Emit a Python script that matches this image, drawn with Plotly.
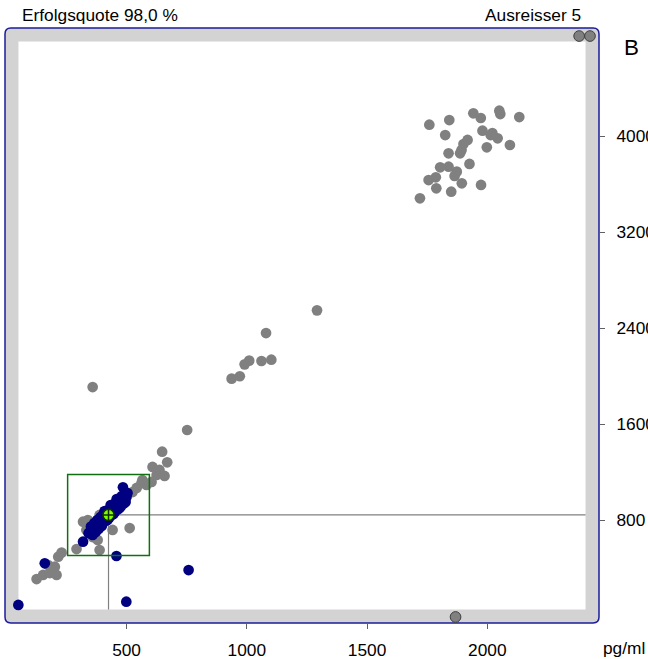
import plotly.graph_objects as go

# ---------------- data ----------------
gray_x = [1759, 1842, 1942, 1973, 2050, 2054, 2133, 1825, 1980, 2014, 2043, 1918, 1901, 1998, 2094,
          1839, 1887, 1893, 1926, 1804, 1839, 1873, 1864, 1786, 1756, 1788, 1850, 1894, 1974, 1720, 2021,
          1292, 1080, 991, 1010, 1061, 1102, 937, 971, 752, 648, 669, 359,
          608, 625, 658, 604, 583, 562, 542, 525, 566, 637,
          319, 339, 388, 442, 513, 359, 380, 388, 292, 333,
          126, 153, 181, 202, 216, 230, 209, 174]
gray_y = [4094, 4133, 4189, 4150, 4211, 4183, 4158, 4008, 4044, 4008, 3981, 3967, 3933, 3906, 3925,
          3856, 3856, 3883, 3767, 3739, 3744, 3703, 3667, 3656, 3633, 3564, 3536, 3606, 3592, 3481, 4025,
          2547, 2358, 2097, 2128, 2125, 2136, 1978, 1998, 1550, 1369, 1281, 1908,
          1242, 1175, 1167, 1117, 1092, 1108, 1067, 1033, 1133, 1217,
          786, 800, 842, 717, 733, 658, 633, 550, 558, 717,
          308, 342, 358, 411, 494, 528, 342, 425]

blue_x = [50, 499, 758, 458, 160, 319, 485,
          347, 355, 363, 368, 376, 380, 388, 392, 401, 405, 413, 417, 426, 430, 438, 442, 450, 455,
          463, 467, 475, 479, 488, 492, 500, 504, 372, 397, 421, 446, 471, 496, 409, 434, 459, 359, 384,
          352, 366, 378, 392, 404, 418, 432, 444, 456, 468, 480, 494, 342, 357, 371, 386, 400, 414,
          428, 440, 452, 465, 477, 490]
blue_y = [92, 119, 383, 500, 439, 619, 1073,
          700, 733, 717, 758, 742, 783, 767, 808, 792, 833, 817, 858, 842, 883, 867, 908, 892, 933,
          917, 958, 942, 983, 967, 1008, 992, 1025, 700, 750, 800, 850, 900, 950, 875, 925, 975, 675, 725,
          745, 775, 800, 825, 850, 875, 900, 925, 950, 975, 1000, 1030, 690, 705, 725, 745, 770, 795,
          820, 845, 870, 890, 915, 940]

outlier_x = [2382, 2427, 1868]
outlier_y = [4833, 4833, -8]

target_x = 425
target_y = 842
limit_pct = 40

x_ticks = [500, 1000, 1500, 2000]
y_ticks = [800, 1600, 2400, 3200, 4000]
x_range = [-5.4, 2464.5]
y_range = [-58.3, 4900]

title_left = "Erfolgsquote 98,0 %"
title_right = "Ausreisser 5"
panel_label = "B"
unit_label = "pg/ml"

# ---------------- figure ----------------
FONT = "Liberation Sans, Arial, sans-serif"
# the captured page appears slightly down-scaled; compensate
SX, SY = 660 / 648, 665 / 659
W, H = round(648 * SX), round(659 * SY)
ML, MR, MT, MB = 5 * SX, 47 * SX, 28 * SY, 36 * SY
pw = W - ML - MR
ph = H - MT - MB
band_x = 13.5 * SX
band_y = 13.5 * SY

fig = go.Figure()

msize = 10.5 * SX
fig.add_trace(go.Scatter(x=gray_x, y=gray_y, mode="markers",
                         marker=dict(size=msize, color="#808080", line=dict(width=0)),
                         hoverinfo="skip", showlegend=False))
fig.add_trace(go.Scatter(x=blue_x, y=blue_y, mode="markers",
                         marker=dict(size=msize, color="#000080", line=dict(width=0)),
                         hoverinfo="skip", showlegend=False))
fig.add_trace(go.Scatter(x=outlier_x, y=outlier_y, mode="markers",
                         marker=dict(size=msize, color="#808080", line=dict(width=1, color="#404040")),
                         hoverinfo="skip", showlegend=False))
fig.add_trace(go.Scatter(x=[target_x], y=[target_y], mode="markers",
                         marker=dict(size=11 * SX, color="#80ff00", symbol="circle-cross",
                                     line=dict(width=1.5, color="#103000")),
                         hoverinfo="skip", showlegend=False))

bx = band_x / pw
by = band_y / ph
rx, ry = 6 / pw, 6 / ph

outer = (f"M {rx},0 L {1-rx},0 Q 1,0 1,{ry} L 1,{1-ry} Q 1,1 {1-rx},1 "
         f"L {rx},1 Q 0,1 0,{1-ry} L 0,{ry} Q 0,0 {rx},0 Z")
shapes = [
    dict(type="path", xref="paper", yref="paper", path=outer,
         fillcolor="#d3d3d3", line=dict(color="#1c1c9c", width=1.5), layer="below"),
    dict(type="rect", xref="paper", yref="paper", x0=bx, x1=1 - bx, y0=by, y1=1 - by,
         fillcolor="white", line=dict(width=0), layer="below"),
]

x_span = x_range[1] - x_range[0]
y_span = y_range[1] - y_range[0]
inner_right = x_range[1] - bx * x_span
inner_bottom = y_range[0] + by * y_span

shapes += [
    dict(type="line", xref="x", yref="y", x0=target_x, x1=target_x, y0=inner_bottom, y1=target_y,
         line=dict(color="#808080", width=1.2), layer="below"),
    dict(type="line", xref="x", yref="y", x0=target_x, x1=inner_right, y0=target_y, y1=target_y,
         line=dict(color="#808080", width=1.2), layer="below"),
    dict(type="rect", xref="x", yref="y",
         x0=target_x * (1 - limit_pct / 100), x1=target_x * (1 + limit_pct / 100),
         y0=target_y * (1 - limit_pct / 100), y1=target_y * (1 + limit_pct / 100),
         line=dict(color="#107010", width=1.5), fillcolor="rgba(0,0,0,0)", layer="above"),
]


def px_x(p):
    return (p * SX - ML) / pw


def px_y(p):
    return 1 - (p * SY - MT) / ph


fs = 17 * SX
annotations = [
    dict(text=title_left, xref="paper", yref="paper", x=px_x(20), y=px_y(15),
         xanchor="left", yanchor="middle", showarrow=False, font=dict(size=fs, color="black")),
    dict(text=title_right, xref="paper", yref="paper", x=px_x(585), y=px_y(15),
         xanchor="right", yanchor="middle", showarrow=False, font=dict(size=fs, color="black")),
    dict(text=panel_label, xref="paper", yref="paper", x=px_x(624), y=px_y(47),
         xanchor="left", yanchor="middle", showarrow=False, font=dict(size=22 * SX, color="black")),
    dict(text=unit_label, xref="paper", yref="paper", x=px_x(603), y=px_y(648),
         xanchor="left", yanchor="middle", showarrow=False, font=dict(size=fs, color="black")),
]

fig.update_layout(
    width=W, height=H,
    margin=dict(l=ML, r=MR, t=MT, b=MB, pad=0),
    paper_bgcolor="white", plot_bgcolor="white",
    font=dict(family=FONT, size=fs, color="black"),
    shapes=shapes, annotations=annotations,
    showlegend=False,
    xaxis=dict(range=x_range, tickmode="array", tickvals=x_ticks,
               ticktext=[str(v) for v in x_ticks],
               showgrid=False, zeroline=False, showline=False,
               ticks="outside", ticklen=5, tickcolor="#606060", tickwidth=1,
               ticklabelstandoff=6, fixedrange=True),
    yaxis=dict(range=y_range, side="right", tickmode="array", tickvals=y_ticks,
               ticktext=[str(v) for v in y_ticks],
               showgrid=False, zeroline=False, showline=False,
               ticks="outside", ticklen=5, tickcolor="#606060", tickwidth=1,
               ticklabelstandoff=8, fixedrange=True),
)

fig.write_html(
    "out.html",
    config={"displayModeBar": False},
    post_script="document.body.style.margin='0';document.body.style.overflow='hidden';",
)
